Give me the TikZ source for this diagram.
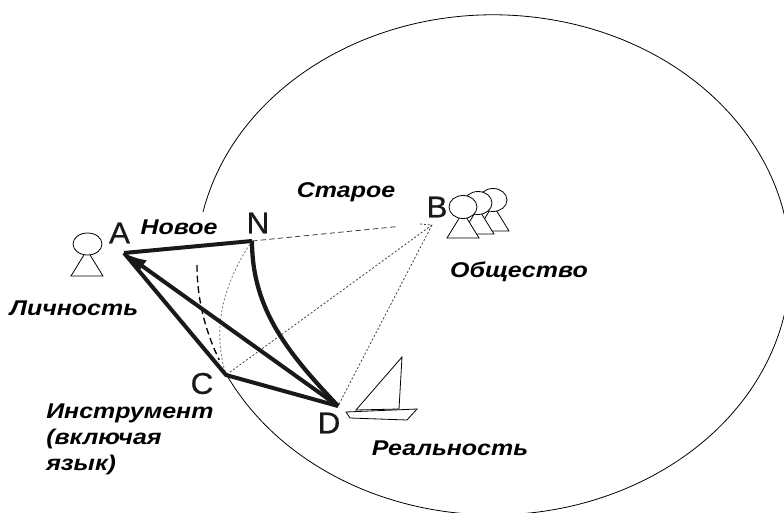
\documentclass[tikz,border=0pt]{standalone}
\usepackage{fontspec}
\setmainfont{Liberation Sans}
\newfontfamily\lblfont[FakeStretch=1.17]{Liberation Sans}
\newfontfamily\ptfont[FakeBold=0.6,FakeStretch=1.05]{Liberation Sans}
\usetikzlibrary{arrows.meta}
\tikzset{
  lbl/.style={font=\lblfont\bfseries\itshape\fontsize{16}{19.2}\selectfont, align=left, inner sep=0pt},
  pt/.style={font=\ptfont\fontsize{22.5}{23}\selectfont, inner sep=0pt, text=black!90},
  heavy/.style={line width=3pt, line join=round, black!90},
  dots/.style={line width=0.6pt, dash pattern=on 1.5pt off 1.5pt, black!75},
  person/.style={draw, fill=white, line width=0.6pt},
}
\begin{document}
\begin{tikzpicture}[x=0.75pt,y=-0.75pt]
  \useasboundingbox (0,0) rectangle (784,513);
  % large ring
  \begin{scope}
    \clip (0,0) rectangle (784,513);
    \draw[line width=0.6pt] (203,212) arc (192.2:513.9:297 and 250);
  \end{scope}
  \draw[line width=1pt, dash pattern=on 5pt off 3pt] (197,265) arc (180:157.7:297 and 250);
  % points
  \node[pt] (A) at (119.5,233) {A};
  \node[pt] (N) at (258,223) {N};
  \node[pt] (B) at (437,207) {B};
  \node[pt] (C) at (202,383.5) {C};
  \node[pt] (D) at (329,423) {D};
  \coordinate (a) at (124,253);
  \coordinate (n) at (252,241);
  \coordinate (b) at (432,225);
  \coordinate (c) at (226,375);
  \coordinate (d) at (338,406);
  \coordinate (nb) at (398,226.5);
  \coordinate (bn) at (420,224);
  % links
  \draw[dots, dash pattern=on 4pt off 2.5pt] (n) -- (nb);
  \draw[dots] (bn) -- (b);
  \draw[dots] (b) -- (c);
  \draw[dots] (b) -- (d);
  \draw[dots, black!55] (n) .. controls (222,285) and (212,330) .. (c);
  \draw[heavy] (a) -- (n);
  \draw[heavy] (a) -- (c) -- (d);
  \draw[heavy, -{Latex[length=17pt,width=11pt]}] (d) -- (a);
  \draw[heavy, line width=3.2pt] (n) .. controls (252,310) and (289,354) .. (d);
  % labels
  \node[lbl] (new) at (179,227) {Новое};
  \node[lbl] (old) at (346,192) {Старое};
  \node[lbl] (pers) at (74,308) {Личность};
  \node[lbl] (soc) at (519,272) {Общество};
  \node[lbl] (real) at (450,448) {Реальность};
  \node[lbl, anchor=north west] (tool) at (46,404) {Инструмент\\(включая\\язык)};
  % person at left
  \draw[person] (71,276) -- (87,250) -- (103,276) -- cycle;
  \draw[person] (87.5,244) ellipse (14.5 and 11);
  % group
  \foreach \dx/\dy in {30/-7,15/-4,0/0}
    {
    \draw[person] (447+\dx,238+\dy) -- (463+\dx,212+\dy) -- (479+\dx,238+\dy) -- cycle;
    \draw[person] (463+\dx,207+\dy) ellipse (14 and 11.5);
    }
  % boat
  \draw[person] (356,410) -- (402,357) -- (399,409) -- cycle;
  \draw[person] (346,412) -- (417,409) -- (407,420) -- (350,418) -- cycle;
\end{tikzpicture}
\end{document}
